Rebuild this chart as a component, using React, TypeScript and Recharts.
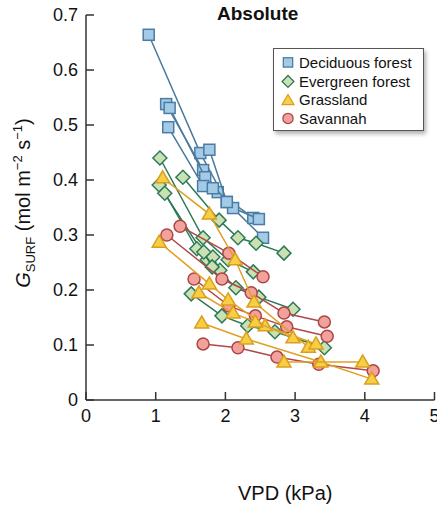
import { ScatterChart, Scatter, XAxis, YAxis, Label } from 'recharts';

type Pt = [number, number];

// each inner array is one site: [VPD (kPa), G_SURF]
const deciduous: Pt[][] = [
  [[0.9, 0.664], [1.64, 0.449], [2.02, 0.36], [2.54, 0.295]],
  [[1.15, 0.538], [1.68, 0.418], [1.89, 0.378], [2.4, 0.331]],
  [[1.2, 0.531], [1.71, 0.405], [2.11, 0.349], [2.48, 0.329]],
  [[1.18, 0.496], [1.68, 0.389], [1.82, 0.385]],
  [[1.77, 0.455], [2.02, 0.36]],
];

const evergreen: Pt[][] = [
  [[1.39, 0.405], [1.91, 0.327], [2.18, 0.295], [2.44, 0.285], [2.84, 0.267]],
  [[1.06, 0.44], [1.68, 0.295], [2.04, 0.255], [2.4, 0.233]],
  [[1.05, 0.391], [1.74, 0.255], [2.15, 0.204], [2.48, 0.187], [2.97, 0.165]],
  [[1.13, 0.376], [1.59, 0.275], [1.82, 0.26], [1.92, 0.236]],
  [[1.69, 0.269], [1.81, 0.242]],
  [[1.51, 0.193], [1.95, 0.153], [2.32, 0.135], [2.71, 0.124], [3.42, 0.095]],
];

const savannah: Pt[][] = [
  [[1.35, 0.316], [2.05, 0.267], [2.54, 0.224]],
  [[1.16, 0.3], [1.95, 0.22], [2.37, 0.195], [2.84, 0.158], [3.42, 0.142]],
  [[1.55, 0.22], [2.05, 0.171], [2.43, 0.153], [2.88, 0.133], [3.46, 0.116]],
  [[1.68, 0.102], [2.18, 0.095], [2.74, 0.078], [3.34, 0.065], [4.12, 0.053]],
];

const grassland: Pt[][] = [
  [[1.1, 0.404], [1.77, 0.338], [2.14, 0.255], [2.41, 0.178], [3.19, 0.096]],
  [[1.05, 0.287], [1.77, 0.211], [2.04, 0.182], [2.57, 0.135], [3.3, 0.102]],
  [[1.62, 0.195], [2.11, 0.158], [2.43, 0.142], [2.97, 0.113]],
  [[1.66, 0.14], [2.3, 0.111], [3.37, 0.069], [4.1, 0.038]],
  [[2.84, 0.069], [3.97, 0.069]],
];

const xTicks = [0, 1, 2, 3, 4, 5];
const yTicks = [0, 0.1, 0.2, 0.3, 0.4, 0.5, 0.6, 0.7];
const legendNames = ['Deciduous forest', 'Evergreen forest', 'Grassland', 'Savannah'];

const toRows = (site: Pt[]) => site.map(([vpd, g]) => ({ vpd, g }));

const FONT = 'Arial, "Liberation Sans", sans-serif';

const STYLE = {
  deciduous: { fill: '#a3cbe8', stroke: '#4b7ca3', line: '#4a7a9c' },
  evergreen: { fill: '#c9e1b3', stroke: '#2f7a58', line: '#2a7a55' },
  grassland: { fill: '#f6cf45', stroke: '#dc9e1e', line: '#e0a024' },
  savannah: { fill: '#f2a29b', stroke: '#ad4646', line: '#b04848' },
};

function Marker({ kind, cx, cy }: { kind: string; cx: number; cy: number }) {
  if (kind === 'deciduous') {
    const s = STYLE.deciduous;
    return <rect x={cx - 5.5} y={cy - 5.5} width={11} height={11} fill={s.fill} stroke={s.stroke} strokeWidth={1.5} />;
  }
  if (kind === 'evergreen') {
    const s = STYLE.evergreen;
    const r = 7;
    return (
      <polygon
        points={`${cx},${cy - r} ${cx + r},${cy} ${cx},${cy + r} ${cx - r},${cy}`}
        fill={s.fill}
        stroke={s.stroke}
        strokeWidth={1.5}
      />
    );
  }
  if (kind === 'grassland') {
    const s = STYLE.grassland;
    return (
      <polygon
        points={`${cx},${cy - 7} ${cx + 7},${cy + 5} ${cx - 7},${cy + 5}`}
        fill={s.fill}
        stroke={s.stroke}
        strokeWidth={1.5}
      />
    );
  }
  const s = STYLE.savannah;
  return <circle cx={cx} cy={cy} r={6} fill={s.fill} stroke={s.stroke} strokeWidth={1.5} />;
}

const kinds = ['deciduous', 'evergreen', 'grassland', 'savannah'];

function LegendBox() {
  return (
    <div
      style={{
        position: 'absolute',
        left: 273,
        top: 48,
        border: '1px solid #555',
        background: '#fff',
        boxShadow: '2px 3px 4px rgba(0,0,0,0.3)',
        padding: '4px 0 4px 5px',
        width: 151,
        height: 83,
        fontFamily: FONT,
        fontSize: 15,
        color: '#111',
        boxSizing: 'border-box',
      }}
    >
      {legendNames.map((name, i) => (
        <div key={name} style={{ display: 'flex', alignItems: 'center', height: 18.7 }}>
          <svg width={18} height={18} style={{ marginRight: 2 }}>
            <g transform="translate(9,9) scale(0.85) translate(-9,-9)">
              <Marker kind={kinds[i]} cx={9} cy={9.5} />
            </g>
          </svg>
          <span>{name}</span>
        </div>
      ))}
    </div>
  );
}

function YTitle() {
  const cx = 30;
  const cy = 203;
  return (
    <text
      x={cx}
      y={cy}
      transform={`rotate(-90, ${cx}, ${cy})`}
      textAnchor="middle"
      fontFamily={FONT}
      fontSize={20}
      fill="#111"
    >
      <tspan fontStyle="italic">G</tspan>
      <tspan fontSize={13} dy={5}>SURF</tspan>
      <tspan dy={-5}> (mol m</tspan>
      <tspan fontSize={13} dy={-8}>−2</tspan>
      <tspan dy={8}> s</tspan>
      <tspan fontSize={13} dy={-8}>−1</tspan>
      <tspan dy={8}>)</tspan>
    </text>
  );
}

const groups: [string, Pt[][]][] = [
  ['deciduous', deciduous],
  ['evergreen', evergreen],
  ['savannah', savannah],
  ['grassland', grassland],
];

export default function App() {
  const tickStyle = { fontSize: 18, fill: '#111', fontFamily: FONT };
  return (
    <div style={{ position: 'fixed', left: 0, top: 0, width: 437, height: 507, overflow: 'hidden', background: '#fff' }}>
      <div
        style={{
          position: 'absolute',
          left: 217,
          top: 3,
          fontFamily: FONT,
          fontWeight: 'bold',
          fontSize: 19,
          color: '#111',
          whiteSpace: 'nowrap',
        }}
      >
        Absolute
      </div>
      <ScatterChart width={450} height={507} margin={{ top: 15, right: 15.5, bottom: 0, left: 0 }}>
        <XAxis
          type="number"
          dataKey="vpd"
          domain={[0, 5]}
          ticks={xTicks}
          interval={0}
          height={107}
          tick={tickStyle}
          tickSize={-8}
          tickMargin={17}
          axisLine={{ stroke: '#333', strokeWidth: 1.5 }}
          tickLine={{ stroke: '#333', strokeWidth: 1.5 }}
          allowDataOverflow
        >
          <Label
            value="VPD (kPa)"
            position="insideBottom"
            offset={7}
            dx={25}
            style={{ fontSize: 20, fill: '#111', fontFamily: FONT }}
          />
        </XAxis>
        <YAxis
          type="number"
          dataKey="g"
          domain={[0, 0.7]}
          ticks={yTicks}
          interval={0}
          width={86}
          tick={tickStyle}
          tickSize={-8}
          tickMargin={16}
          axisLine={{ stroke: '#333', strokeWidth: 1.5 }}
          tickLine={{ stroke: '#333', strokeWidth: 1.5 }}
          allowDataOverflow
        >
          <Label content={<YTitle />} />
        </YAxis>
        {groups.map(([kind, sites]) =>
          sites.map((site, i) => (
            <Scatter
              key={`${kind}-${i}`}
              data={toRows(site)}
              isAnimationActive={false}
              line={{ stroke: STYLE[kind as keyof typeof STYLE].line, strokeWidth: 1.5 }}
              legendType="none"
              shape={(p: any) => <Marker kind={kind} cx={p.cx} cy={p.cy} />}
            />
          ))
        )}
      </ScatterChart>
      <LegendBox />
    </div>
  );
}
